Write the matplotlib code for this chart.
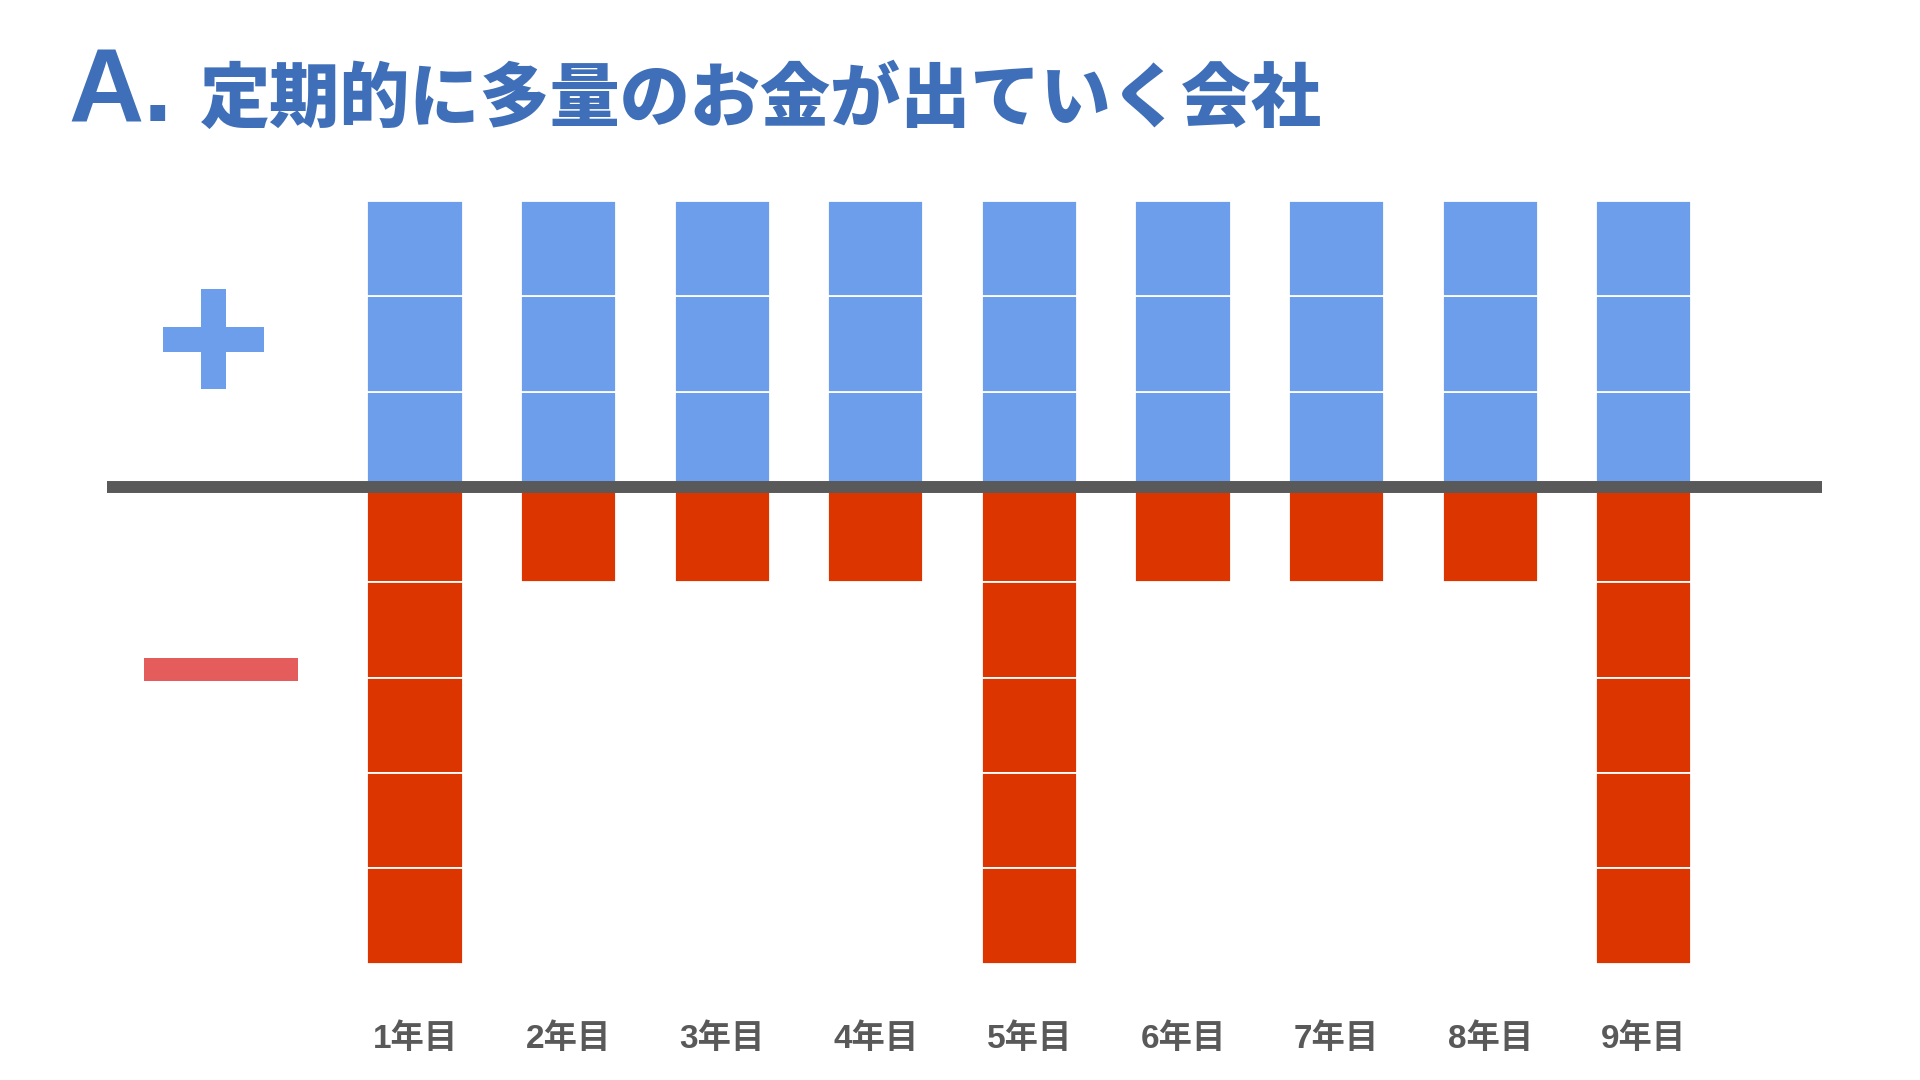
import matplotlib
matplotlib.use('Agg')
import matplotlib.pyplot as plt
from matplotlib.patches import Rectangle

# data
years = ['1年目', '2年目', '3年目', '4年目', '5年目', '6年目', '7年目', '8年目', '9年目']
income = [3, 3, 3, 3, 3, 3, 3, 3, 3]
expense = [5, 1, 1, 1, 5, 1, 1, 1, 5]

blue = '#6d9eeb'
red = '#dd3500'
grey = '#595959'
title_col = '#3f6fb8'

W, H = 1920, 1080
fig = plt.figure(figsize=(W / 100, H / 100), dpi=100)
fig.patch.set_facecolor('white')

# axes spans the whole figure; units chosen so bars land where the slide has them
ax = fig.add_axes([0, 0, 1, 1])
step = 153.6   # px between bar centres
unit = 95.3    # px per block
x0, y0 = 415, 1080 - 487
ax.set_xlim(-x0 / step, (W - x0) / step)
ax.set_ylim(-y0 / unit, (H - y0) / unit)
ax.axis('off')

for i in range(len(years)):
    for k in range(income[i]):
        ax.bar(i, 1, bottom=k, width=0.62, color=blue,
               edgecolor='white', linewidth=1.3, zorder=2)
    for k in range(expense[i]):
        ax.bar(i, -1, bottom=-k, width=0.62, color=red,
               edgecolor='white', linewidth=1.3, zorder=2)
    ax.text(i, -y0 / unit + 41 / unit, years[i], ha='center', va='center',
            fontsize=24, fontweight='bold', color=grey,
            family=['Liberation Sans', 'Noto Sans CJK JP'])

ax.axhline(0, xmin=107 / W, xmax=1822 / W, color=grey, linewidth=8.6,
           solid_capstyle='butt', zorder=3)


def px_rect(x1, y1, x2, y2, col):
    fig.patches.append(Rectangle((x1 / W, 1 - y2 / H), (x2 - x1) / W, (y2 - y1) / H,
                                 transform=fig.transFigure, color=col, lw=0))


# plus / minus marks
px_rect(201, 289, 226, 389, blue)
px_rect(163, 327, 264, 352, blue)
px_rect(144, 658, 298, 681, '#e55c5c')

# title
fig.text(68 / W, 1 - 122 / H, 'A.', fontsize=75, fontweight='bold',
         color=title_col, family='Liberation Sans', va='baseline', ha='left')
fig.text(200 / W, 1 - 121 / H, '定期的に多量のお金が出ていく会社', fontsize=50.5,
         fontweight='heavy', color=title_col, family='Noto Sans CJK JP',
         va='baseline', ha='left')

fig.savefig('out.png', dpi=100, facecolor='white')
